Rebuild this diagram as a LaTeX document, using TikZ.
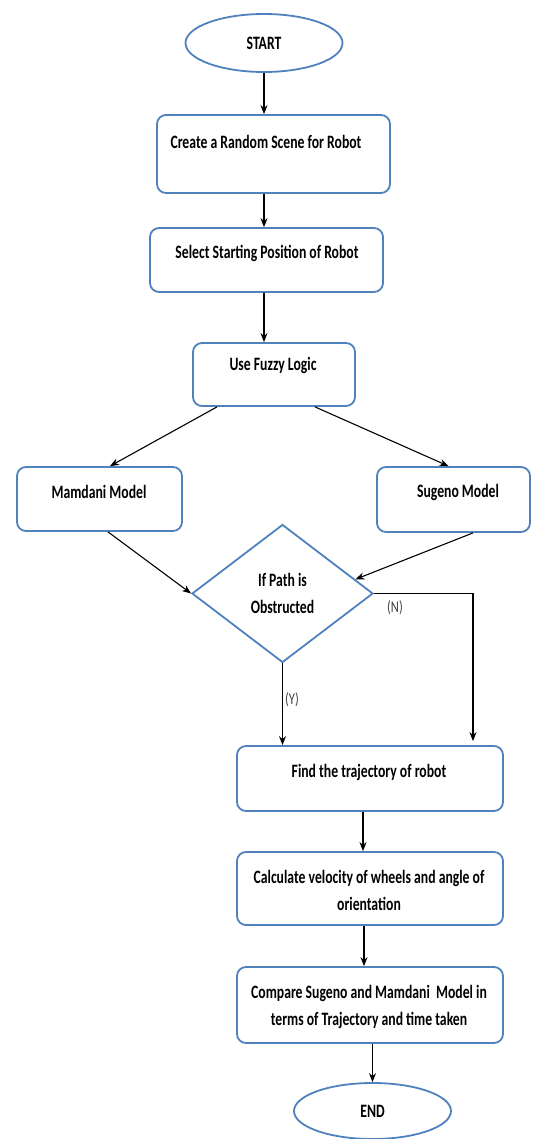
\documentclass[tikz,border=0pt]{standalone}
\usepackage{fontspec}
\setmainfont{Carlito}
\usetikzlibrary{shapes.geometric,arrows.meta,positioning}
\definecolor{boxblue}{RGB}{79,129,189}

\begin{document}
\begin{tikzpicture}[x=1pt,y=1pt,
		txt/.style={%
			font=\bfseries\fontsize{13.7}{19.6}\selectfont,
			align=center,
			yscale=1.38, transform shape
		},
		term/.style={draw=boxblue, line width=1.8pt, ellipse, inner sep=0pt},
		proc/.style={draw=boxblue, line width=1.8pt, rectangle, rounded corners=9pt, inner sep=0pt},
		decision/.style={draw=boxblue, line width=1.8pt, diamond, inner sep=0pt, aspect=1.3},
		flow/.style={-{Stealth[length=9pt,width=7pt]}, line width=1.1pt},
		answer/.style={font=\fontsize{12.5}{14}\selectfont, text=black!75, yscale=1.3, transform shape}
	]
	\useasboundingbox (0,0) rectangle (536,-1139);

	\node[term, minimum width=157, minimum height=58] (start) at (264,-43) {};
	\node[txt] (starttxt) at (start) {START};

	\node[proc, minimum width=233, minimum height=78] (scene) at (273.5,-154) {};
	\node[txt] (scenetxt) at (266,-142) {Create a Random Scene for Robot};

	\node[proc, minimum width=233, minimum height=64] (startpos) at (266.5,-260) {};
	\node[txt] (startpostxt) at (267,-253) {Select Starting Position of Robot};

	\node[proc, minimum width=162, minimum height=63] (fuzzy) at (274,-374.5) {};
	\node[txt] (fuzzytxt) at (273,-365) {Use Fuzzy Logic};

	\node[proc, minimum width=165, minimum height=64] (mamdani) at (99.5,-499) {};
	\node[txt] (mamdanitxt) at (99,-492) {Mamdani Model};

	\node[proc, minimum width=153, minimum height=65] (sugeno) at (453.5,-499.5) {};
	\node[txt] (sugenotxt) at (458,-492) {Sugeno Model};

	\node[decision, minimum width=181, minimum height=138] (obstructed) at (282.5,-593.5) {};
	\node[txt] (obstructedtxt) at (obstructed) {If Path is\\Obstructed};

	\node[proc, minimum width=266, minimum height=65] (trajectory) at (370,-778.5) {};
	\node[txt] (trajectorytxt) at (369,-772) {Find the trajectory of robot};

	\node[proc, minimum width=266, minimum height=73] (velocity) at (370,-888.5) {};
	\node[txt] (velocitytxt) at (369,-890.5) {Calculate velocity of wheels and angle of\\orientation};

	\node[proc, minimum width=266, minimum height=76] (compare) at (370,-1005) {};
	\node[txt] (comparetxt) at (369,-1006.5) {Compare Sugeno and Mamdani~ Model in\\terms of Trajectory and time taken};

	\node[term, minimum width=157, minimum height=56] (stop) at (372.5,-1111) {};
	\node[txt] (stoptxt) at (stop) {END};

	\draw[flow] (start.south) -- (start.south |- scene.north);
	\draw[flow] (scene.south -| start) -- (startpos.north -| start);
	\draw[flow] (startpos.south -| start) -- (fuzzy.north -| start);
	\draw[flow] ([xshift=-57]fuzzy.south) -- ([xshift=10.5]mamdani.north);
	\draw[flow] ([xshift=41]fuzzy.south) -- ([xshift=-5]sugeno.north);
	\draw[flow] ([xshift=8.5]mamdani.south) -- (obstructed.west);
	\draw[flow] ([xshift=19.5]sugeno.south) -- (obstructed.11);

	% yes / no branches
	\draw[flow] (obstructed.south) -- (obstructed.south |- trajectory.north);
	\node[answer] (yes) at (292,-700) {(Y)};
	\draw[flow, shorten >=4pt] (obstructed.east) -| ([xshift=103]trajectory.north);
	\node[answer] (no) at (395,-608) {(N)};

	\draw[flow] ([xshift=-7]trajectory.south) -- ([xshift=-7]velocity.north);
	\draw[flow] ([xshift=-6]velocity.south) -- ([xshift=-6]compare.north);
	\draw[flow] (compare.south -| stop) -- (stop.north);
\end{tikzpicture}
\end{document}
